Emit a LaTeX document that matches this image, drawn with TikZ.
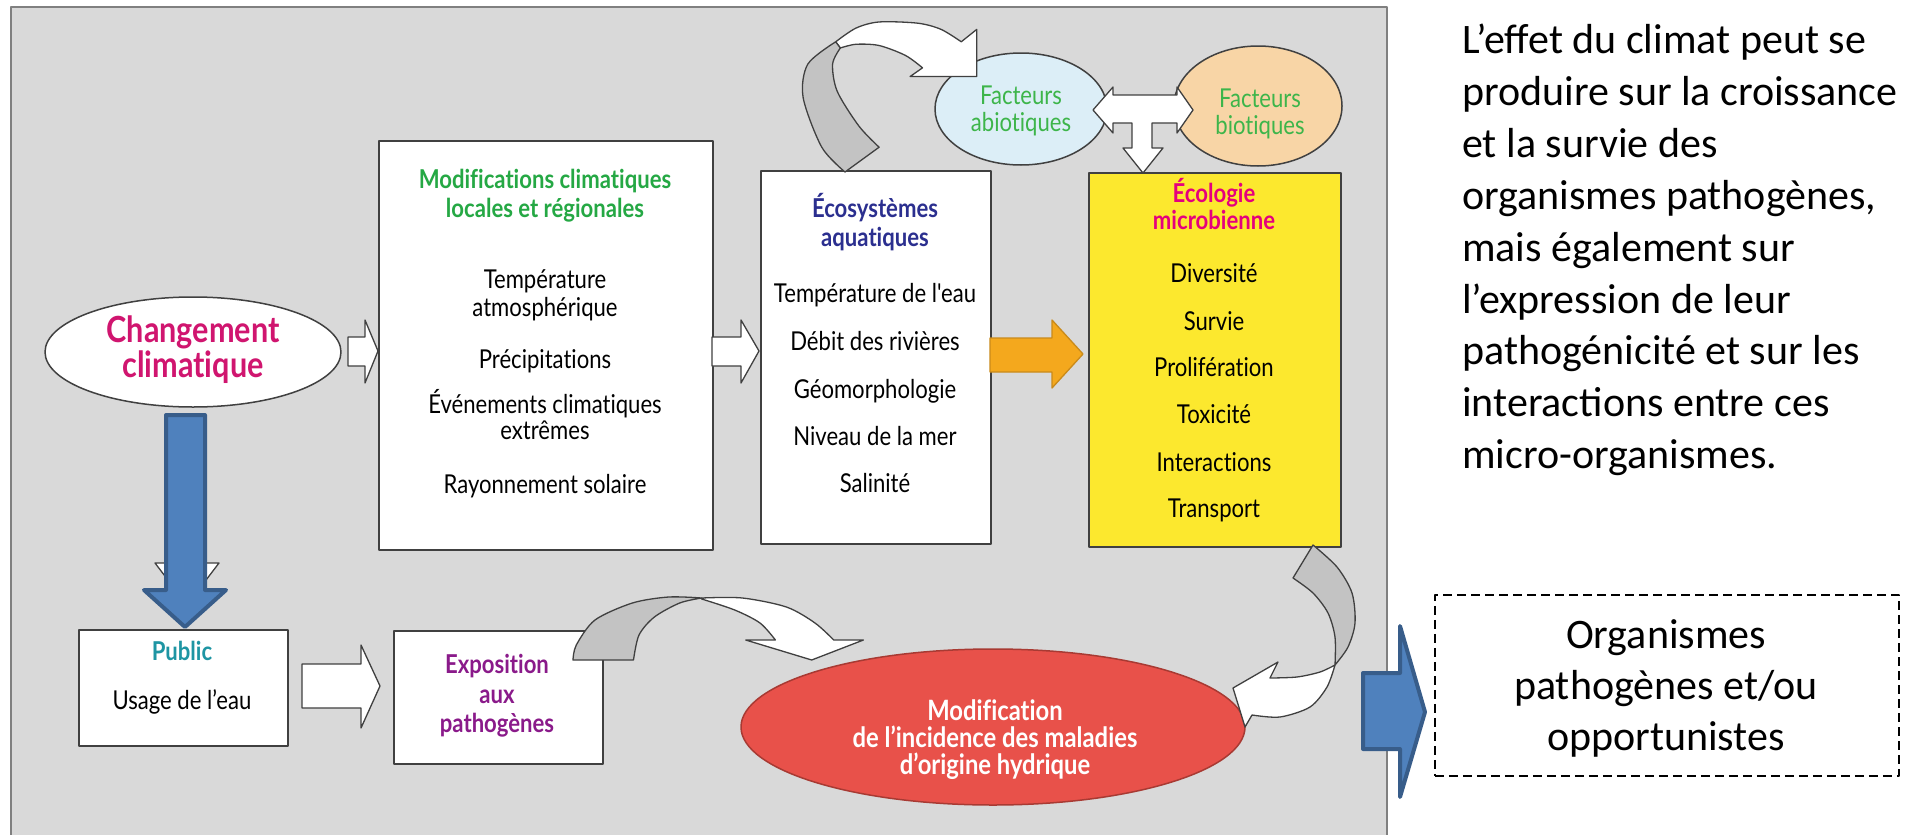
\documentclass[tikz,border=0pt]{standalone}
\usepackage{fontspec}
\setmainfont{Carlito}
\newfontfamily\diag[FakeStretch=0.85,Ligatures={NoCommon,NoContextual}]{Lato}
\usetikzlibrary{shapes.geometric}
\definecolor{panel}{HTML}{D9D9D9}
\definecolor{panelline}{HTML}{808080}
\definecolor{linegray}{HTML}{404040}
\definecolor{magtxt}{HTML}{D0156F}
\definecolor{greentxt}{HTML}{25A844}
\definecolor{factxt}{HTML}{3DB54A}
\definecolor{bluetxt}{HTML}{2B2F8F}
\definecolor{ecotxt}{HTML}{E5007D}
\definecolor{pubtxt}{HTML}{1E95A3}
\definecolor{expotxt}{HTML}{8A1A8A}
\definecolor{abio}{HTML}{DCEEF7}
\definecolor{bio}{HTML}{F8D5A6}
\definecolor{yel}{HTML}{FCE82E}
\definecolor{redell}{HTML}{E8514A}
\definecolor{redline}{HTML}{A83A33}
\definecolor{orangearr}{HTML}{F4A81D}
\definecolor{orangeline}{HTML}{C98A1A}
\definecolor{bluearr}{HTML}{4F81BD}
\definecolor{blueline}{HTML}{385D8A}
\definecolor{curvegray}{HTML}{C3C3C3}
\tikzset{
  box/.style={draw=linegray, line width=1.5pt, fill=white, inner sep=0, anchor=north west},
  ell/.style={ellipse, draw=linegray, line width=1.5pt, inner sep=0},
  itm/.style={font=\diag\fontsize{26}{29}\selectfont, inner sep=0, anchor=base},
  ttl/.style={font=\diag\bfseries\fontsize{26}{29}\selectfont, inner sep=0, anchor=base},
  redtxt/.style={font=\diag\bfseries\fontsize{28}{30}\selectfont, text=white, inner sep=0, anchor=base},
  chgtxt/.style={font=\diag\bfseries\fontsize{36}{38}\selectfont, text=magtxt, inner sep=0, anchor=base},
  hollow/.style={draw=linegray, line width=1.3pt, fill=white},
  curvepart/.style={draw=linegray, line width=1.3pt},
  para/.style={font=\fontsize{42}{51}\selectfont, inner sep=0, anchor=base west},
  org/.style={font=\fontsize{42}{51}\selectfont, inner sep=0, anchor=base},
}
\begin{document}
\begin{tikzpicture}[x=1pt,y=-1pt,line join=round]
\useasboundingbox (0,0) rectangle (1914,835);
\fill[white] (0,0) rectangle (1914,835);
% panel
\fill[panel] (11,7) rectangle (1387,835);
\draw[panelline, line width=2pt] (11,835) -- (11,7) -- (1387,7) -- (1387,835);

% main nodes
\node[ell, fill=white, minimum width=296, minimum height=110] (chg) at (193,352) {};
\node[box, minimum width=334, minimum height=409] (modif) at (378,140) {};
\node[box, minimum width=230, minimum height=373] (eco) at (760,170) {};
\node[box, fill=yel, minimum width=252, minimum height=374] (ecol) at (1088,172) {};
\node[ell, fill=abio, minimum width=172, minimum height=112] (abio) at (1021,109) {};
\node[ell, fill=bio, minimum width=168, minimum height=120] (bio) at (1258,106) {};
\node[box, minimum width=209, minimum height=116] (pub) at (78,629) {};
\node[box, minimum width=209, minimum height=133] (expo) at (393,630) {};

% texts
\node[chgtxt] (c1) at (193,342) {Changement};
\node[chgtxt] (c2) at (193,377) {climatique};

\node[ttl, text=greentxt] (mt1) at (545,188) {Modifications climatiques};
\node[ttl, text=greentxt] (mt2) at (545,217) {locales et régionales};
\node[itm] (m1) at (545,288) {Température};
\node[itm] (m2) at (545,316) {atmosphérique};
\node[itm] (m3) at (545,368) {Précipitations};
\node[itm] (m4) at (545,413) {Événements climatiques};
\node[itm] (m5) at (545,439) {extrêmes};
\node[itm] (m6) at (545,493) {Rayonnement solaire};

\node[ttl, text=bluetxt] (et1) at (875,217) {Écosystèmes};
\node[ttl, text=bluetxt] (et2) at (875,246) {aquatiques};
\node[itm] (e1) at (875,302) {Température de l'eau};
\node[itm] (e2) at (875,350) {Débit des rivières};
\node[itm] (e3) at (875,398) {Géomorphologie};
\node[itm] (e4) at (875,445) {Niveau de la mer};
\node[itm] (e5) at (875,492) {Salinité};

\node[ttl, text=ecotxt] (yt1) at (1214,202) {Écologie};
\node[ttl, text=ecotxt] (yt2) at (1214,229) {microbienne};
\node[itm] (y1) at (1214,282) {Diversité};
\node[itm] (y2) at (1214,330) {Survie};
\node[itm] (y3) at (1214,376) {Prolifération};
\node[itm] (y4) at (1214,423) {Toxicité};
\node[itm] (y5) at (1214,471) {Interactions};
\node[itm] (y6) at (1214,517) {Transport};

\node[itm, text=factxt] (a1) at (1021,104) {Facteurs};
\node[itm, text=factxt] (a2) at (1021,131) {abiotiques};
\node[itm, text=factxt] (b1) at (1260,107) {Facteurs};
\node[itm, text=factxt] (b2) at (1260,134) {biotiques};

\node[ttl, text=pubtxt] (p1) at (182,660) {Public};
\node[itm] (p2) at (182,709) {Usage de l’eau};

\node[ttl, text=expotxt] (x1) at (497,673) {Exposition};
\node[ttl, text=expotxt] (x2) at (497,703) {aux};
\node[ttl, text=expotxt] (x3) at (497,732) {pathogènes};

% straight block arrows
\draw[hollow] (348,337) -- (365,337) -- (365,320) -- (378,351) -- (365,383) -- (365,366) -- (348,366) -- cycle;
\draw[hollow] (712,337) -- (741,337) -- (741,320) -- (759,351) -- (741,383) -- (741,366) -- (712,366) -- cycle;
\draw[draw=orangeline, line width=1.3pt, fill=orangearr] (990,338) -- (1052,338) -- (1052,320) -- (1083,354) -- (1052,388) -- (1052,372) -- (990,372) -- cycle;
\draw[hollow] (302,664) -- (361,664) -- (361,645) -- (380,686) -- (361,728) -- (361,708) -- (302,708) -- cycle;

% T arrow between factors
\draw[hollow] (1093,110) -- (1113,87) -- (1113,95) -- (1177,95) -- (1177,87) -- (1193,110) -- (1177,133) -- (1177,123) -- (1152,123) -- (1152,148) -- (1163,148) -- (1143,173) -- (1123,148) -- (1132,148) -- (1132,123) -- (1113,123) -- (1113,133) -- cycle;

% hidden triangle + blue down arrow
\draw[hollow] (155,563) -- (219,563) -- (187,605) -- cycle;
\draw[draw=blueline, line width=4pt, fill=bluearr] (166,415) -- (205,415) -- (205,590) -- (226,590) -- (185,627) -- (144,590) -- (166,590) -- cycle;

% red ellipse
\node[ellipse, draw=redline, line width=1.5pt, fill=redell, minimum width=504, minimum height=156, inner sep=0] (red) at (993,727) {};
\node[redtxt] (r1) at (995,720) {Modification};
\node[redtxt] (r2) at (995,747) {de l’incidence des maladies};
\node[redtxt] (r3) at (995,774) {d’origine hydrique};

% curved arrow eco -> abiotic (enlarged)
\begin{scope}[shift={(845,172)}, xscale=1.55, yscale=1.24, shift={(-838,-177)}]
\draw[curvepart, fill=white] plot[smooth] coordinates {(832,72) (845,61) (860,56) (885,57) (900,62) (913,72)} -- (923,62) -- (923,100) -- (880,100) -- (888,93) -- plot[smooth] coordinates {(888,93) (877,83) (860,75) (845,74) (835,77)} -- cycle;
\draw[curvepart, fill=curvegray] plot[smooth] coordinates {(838,177) (823,157) (811,117) (814,90) (832,72)} -- plot[smooth] coordinates {(835,77) (830,90) (833,112) (847,140) (860,157)} -- cycle;
\end{scope}

% curved arrow expo -> red
\begin{scope}[shift={(573,660)}, xscale=1.1, shift={(-573,-660)}]
\draw[curvepart, fill=curvegray] plot[smooth] coordinates {(573,660) (576,645) (593,620) (627,603) (660,597) (690,598)} -- plot[smooth] coordinates {(690,598) (670,603) (647,617) (633,635) (628,660)} -- cycle;
\draw[curvepart, fill=white] plot[smooth] coordinates {(690,598) (727,598) (767,607) (793,623) (810,640)} -- (837,640) -- (790,660) -- (730,640) -- (757,640) -- plot[smooth] coordinates {(757,640) (743,623) (720,610) (690,599)} -- cycle;
\end{scope}

% curved arrow ecol -> red
\draw[curvepart, fill=curvegray] (1313,545) -- (1293,578) -- plot[smooth] coordinates {(1293,578) (1313,593) (1328,613) (1335,637) (1335,665)} -- plot[smooth] coordinates {(1335,665) (1348,647) (1355,623) (1352,593) (1337,567) (1313,545)} -- cycle;
\draw[curvepart, fill=white] plot[smooth] coordinates {(1335,665) (1327,687) (1310,707) (1280,717) (1252,715)} -- (1245,727) -- (1233,688) -- (1278,662) -- (1270,678) -- plot[smooth] coordinates {(1270,678) (1297,677) (1320,672) (1335,665)} -- cycle;

% blue right arrow
\draw[draw=blueline, line width=4pt, fill=bluearr] (1363,673) -- (1400,673) -- (1400,626) -- (1425,712) -- (1400,797) -- (1400,749) -- (1363,749) -- cycle;

% right side text
\node[para] (t1) at (1462,53) {L’effet du climat peut se};
\node[para] (t2) at (1462,105) {produire sur la croissance};
\node[para] (t3) at (1462,157) {et la survie des};
\node[para] (t4) at (1462,209) {organismes pathogènes,};
\node[para] (t5) at (1462,261) {mais également sur};
\node[para] (t6) at (1462,313) {l’expression de leur};
\node[para] (t7) at (1462,364) {pathogénicité et sur les};
\node[para] (t8) at (1462,416) {interactions entre ces};
\node[para] (t9) at (1462,468) {micro-organismes.};

\node[draw=black, dash pattern=on 9pt off 5pt, line width=1.8pt, minimum width=464, minimum height=181, anchor=north west, inner sep=0] (orgbox) at (1434,594) {};
\node[org] (o1) at (1666,648) {Organismes};
\node[org] (o2) at (1666,699) {pathogènes et/ou};
\node[org] (o3) at (1666,750) {opportunistes};
\end{tikzpicture}
\end{document}
